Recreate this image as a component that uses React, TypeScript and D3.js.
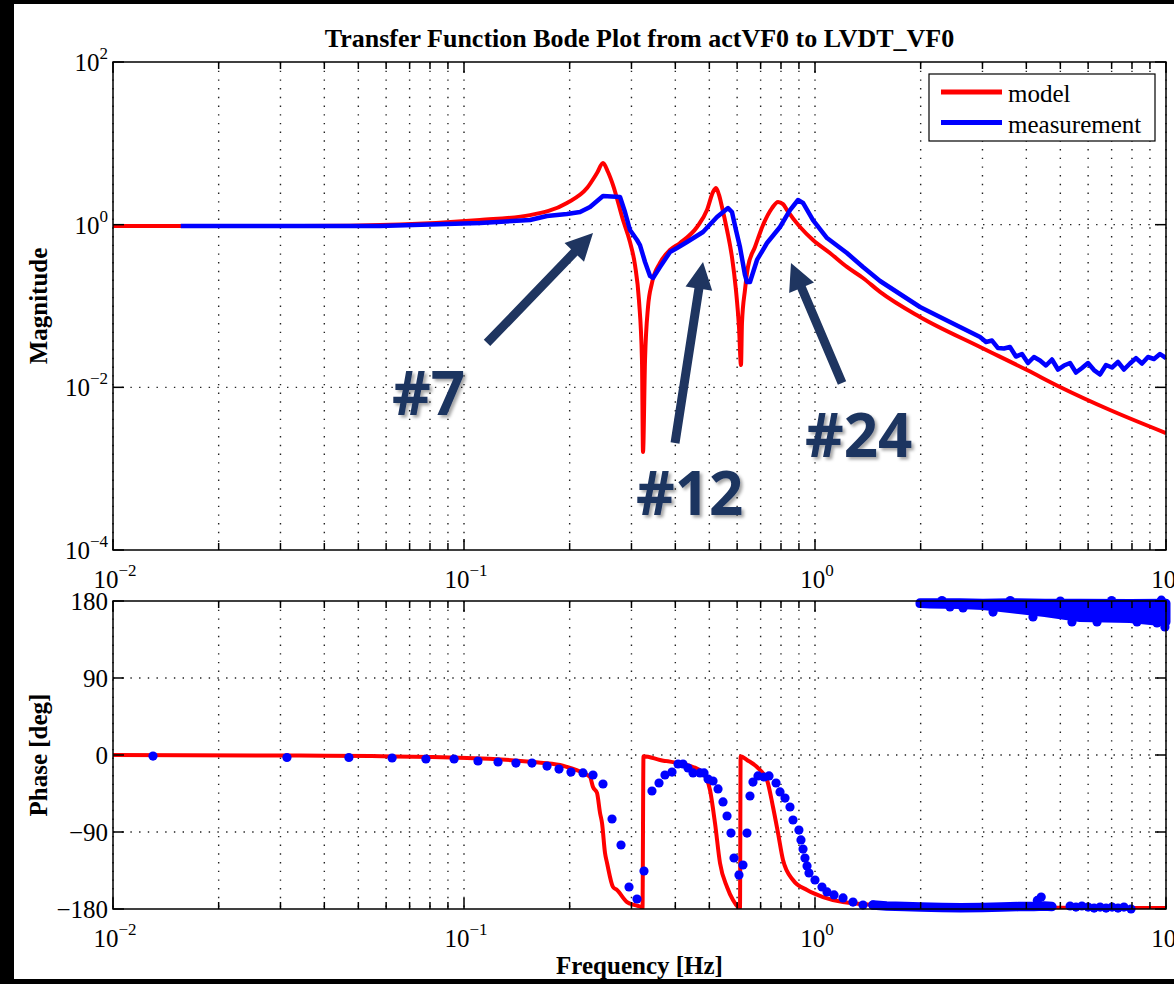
import React from "react";
import * as d3 from "d3";

// values

// magnitude, model (red)
const modelMagFreq = [0.01, 0.0341, 0.0657, 0.111, 0.1542, 0.1965, 0.2241, 0.2393, 0.2489, 0.2572, 0.2658, 0.2838, 0.2971, 0.307, 0.3151, 0.3214, 0.3236, 0.3279, 0.3344, 0.3432, 0.3617, 0.3863, 0.4125, 0.4612, 0.4924, 0.5122, 0.5224, 0.5328, 0.5433, 0.5615, 0.58, 0.5954, 0.6073, 0.6154, 0.6194, 0.6317, 0.6443, 0.6745, 0.7111, 0.7543, 0.7846, 0.8107, 0.8322, 0.9065, 0.9869, 1.103, 1.233, 1.37, 1.532, 1.991, 2.953, 4.018, 4.989, 6.926, 10.0];
const modelMag = [0.963, 0.963, 1.005, 1.14, 1.31, 1.85, 2.82, 4.32, 5.73, 4.44, 3.07, 1.14, 0.612, 0.319, 0.1185, 0.0217, 0.0016, 0.0217, 0.0972, 0.192, 0.338, 0.488, 0.595, 0.936, 1.51, 2.52, 2.82, 2.32, 1.65, 0.86, 0.4, 0.157, 0.0552, 0.0188, 0.0618, 0.157, 0.302, 0.531, 0.99, 1.6, 1.9, 1.79, 1.51, 0.936, 0.648, 0.448, 0.302, 0.221, 0.149, 0.0732, 0.0313, 0.0163, 0.0101, 0.00526, 0.00274];

// magnitude, measurement (blue)
const measMagFreq = [0.0156, 0.0576, 0.111, 0.1542, 0.1724, 0.1965, 0.2141, 0.2286, 0.2489, 0.2783, 0.2875, 0.2971, 0.3111, 0.3172, 0.3279, 0.3388, 0.3455, 0.3617, 0.3863, 0.4045, 0.4319, 0.4797, 0.5258, 0.5652, 0.58, 0.5954, 0.6113, 0.6317, 0.6401, 0.6528, 0.6835, 0.7299, 0.7949, 0.8487, 0.8946, 0.9244, 0.9869, 1.082, 1.233, 1.37, 1.532, 1.991, 2.424, 2.953, 3.071, 3.194, 3.322, 3.455, 3.593, 3.737, 3.887, 4.043, 4.205, 4.375, 4.55, 4.733, 4.923, 5.121, 5.328, 5.54, 5.763, 5.995, 6.235, 6.486, 6.746, 7.018, 7.298, 7.591, 7.896, 8.213, 8.543, 8.886, 9.243, 9.614, 10.0];
const measMag = [0.963, 0.963, 1.05, 1.14, 1.28, 1.35, 1.43, 1.65, 2.25, 2.19, 1.43, 0.86, 0.648, 0.562, 0.3475, 0.234, 0.221, 0.302, 0.461, 0.516, 0.612, 0.812, 1.24, 1.6, 1.43, 0.86, 0.531, 0.2405, 0.197, 0.197, 0.368, 0.595, 0.936, 1.51, 2.01, 1.85, 1.14, 0.685, 0.448, 0.302, 0.203, 0.0972, 0.0636, 0.0416, 0.0361, 0.0376, 0.0304, 0.03, 0.0313, 0.0239, 0.0257, 0.0199, 0.0236, 0.0214, 0.01855, 0.022, 0.01656, 0.01855, 0.0199, 0.01521, 0.0173, 0.0199, 0.0163, 0.01437, 0.0188, 0.01753, 0.0205, 0.01656, 0.01963, 0.0229, 0.01963, 0.0236, 0.0223, 0.0257, 0.0229];

// phase, model (red)
const modelPhaseFreq = [0.01, 0.0341, 0.102, 0.1573, 0.1877, 0.1965, 0.2183, 0.2286, 0.2331, 0.2393, 0.2441, 0.2473, 0.2522, 0.2556, 0.2658, 0.2728, 0.2914, 0.307, 0.3214, 0.3225, 0.3246, 0.3617, 0.4493, 0.4797, 0.5022, 0.5189, 0.5362, 0.5615, 0.5839, 0.6033, 0.6113, 0.614, 0.6401, 0.6973, 0.7299, 0.7592, 0.7846, 0.8107, 0.8656, 0.949, 1.054, 1.202, 1.502, 2.424, 10.0];
const modelPhase = [0, -0.6, -3.5, -8.2, -11.7, -14.0, -21.0, -25.7, -37.4, -44.4, -67.8, -79.5, -114.5, -126.2, -154.3, -157.8, -171.9, -175.4, -178.3, -179.5, -1.5, -5.8, -14.0, -21.0, -40.9, -79.5, -126.2, -154.3, -169.5, -177.7, -179.4, -1.5, -5.8, -17.5, -29.2, -60.8, -91.2, -122.7, -146.1, -157.8, -166.0, -171.9, -175.4, -177.7, -178.9];

// phase, measurement dots (blue)
const measPhaseFreq = [0.013, 0.0313, 0.047, 0.0624, 0.0779, 0.0937, 0.1096, 0.125, 0.1406, 0.1562, 0.1724, 0.1865, 0.2017, 0.2183, 0.2331, 0.2489, 0.2641, 0.2801, 0.2952, 0.3111, 0.3257, 0.3432, 0.3594, 0.3737, 0.3914, 0.4072, 0.4207, 0.4347, 0.4493, 0.4704, 0.4829, 0.4957, 0.5122, 0.5293, 0.5469, 0.5615, 0.5763, 0.5878, 0.6073, 0.6235, 0.6401, 0.6528, 0.6657, 0.688, 0.7157, 0.7396, 0.7745, 0.7949, 0.8214, 0.8487, 0.8656, 0.9, 0.9121, 0.9244, 0.9363, 0.949, 0.9614, 1.0, 1.047, 1.082, 1.133, 1.202, 1.283, 1.37, 1.463, 4.41, 4.3, 5.33, 5.54, 5.76, 6.0, 6.24, 6.49, 6.75, 7.02, 7.3, 7.59, 7.95];
const measPhase = [-1.2, -2.9, -2.9, -3.5, -4.7, -4.7, -7.0, -8.2, -9.4, -9.4, -12.9, -16.4, -19.9, -21.0, -23.4, -33.9, -74.8, -105.2, -154.3, -168.3, -135.6, -42.1, -32.7, -23.4, -19.9, -10.5, -10.5, -15.2, -21.0, -21.0, -21.0, -28.1, -30.4, -39.7, -54.9, -71.3, -91.2, -120.4, -140.3, -128.6, -91.2, -47.9, -31.6, -24.5, -25.7, -24.5, -32.7, -43.2, -50.3, -60.8, -76.0, -87.7, -99.3, -109.9, -120.4, -129.7, -137.9, -146.1, -154.3, -160.1, -163.6, -167.1, -171.9, -175.4, -175.4, -166.0, -170.0, -176.5, -177.7, -176.5, -177.7, -178.9, -177.7, -178.9, -177.7, -178.9, -177.7, -180];

// dense measured phase near -180 (1.5 to 4.7 Hz), drawn as a band of overlapping dots
const lowBandFreq = [1.463, 1.6, 1.8, 2.0, 2.3, 2.6, 3.0, 3.4, 3.8, 4.2, 4.5, 4.73];
const lowBandPhase = [-175.4, -176.5, -177.2, -177.7, -178.3, -178.6, -178.3, -177.7, -177.2, -177.0, -176.5, -177.2];

// wrapped measured phase near +180 (2 to 10 Hz)
const topBandFreq = [1.991, 2.126, 2.589, 3.01, 3.593, 4.521, 5.689, 7.896, 10.0];
const topBandUpper = [178, 178, 178, 177.5, 178, 177.5, 177.5, 177, 177.5];
const topBandLower = [177, 176.5, 176, 174.7, 171.2, 166.6, 160.7, 159.5, 155.5];
const topBumpFreq = [2.424, 2.641, 3.215, 4.179, 5.396, 6.36, 8.27, 9.427, 9.93, 2.3, 3.6, 5.0, 7.0, 9.7];
const topBumpPhase = [173.0, 171.8, 167.1, 161.3, 155.5, 155.5, 155.5, 154.3, 149.6, 180.5, 180.5, 180, 180.5, 181];

const magTicks = [1e-4, 1e-2, 1, 1e2];
const phaseTicks = [-180, -90, 0, 90, 180];
const phaseGrid = [-90, 0, 90];
const magGrid = [1e-2, 1];
const freqDecades = [0.01, 0.1, 1, 10];
const legendLabels = ["model", "measurement"];
const legendColors = ["#ff0000", "#0000ff"];

// annotation arrows, in (Hz, magnitude)
const noteLabels = ["#7", "#12", "#24"];
const noteTextFreq = [0.0624, 0.309, 0.9363];
const noteTextMag = [0.00457, 0.000269, 0.00139];
const arrowTailFreq = [0.1163, 0.3992, 1.194];
const arrowTailMag = [0.0351, 0.00207, 0.0113];
const arrowTipFreq = [0.2331, 0.4797, 0.8543];
const arrowTipMag = [0.79, 0.3475, 0.338];

const serif = "'Liberation Serif', 'Times New Roman', serif";
const navy = "#1f3560";

const PL = 113, PR = 1166;
const MT = 62, MB = 550;
const PT = 601, PB = 909;

const x = d3.scaleLog().domain([0.01, 10]).range([PL, PR]);
const yMag = d3.scaleLog().domain([1e-4, 1e2]).range([MB, MT]);
const yPh = d3.scaleLinear().domain([-180, 180]).range([PB, PT]);
const freqTicks = x.ticks();

const expText = (v: number) => {
  const e = Math.round(Math.log10(v));
  return e < 0 ? "\u2212" + Math.abs(e) : String(e);
};
const isDecade = (v: number) => freqDecades.some((d) => Math.abs(v / d - 1) < 1e-6);

function arrowPoints(x1: number, y1: number, x2: number, y2: number) {
  const dx = x2 - x1, dy = y2 - y1;
  const len = Math.hypot(dx, dy);
  const ux = dx / len, uy = dy / len;
  const nx = -uy, ny = ux;
  const headLen = 27, headHalf = 13.5, shaftHalf = 4.5;
  const bx = x2 - ux * headLen, by = y2 - uy * headLen;
  const pts = [
    [x1 + nx * shaftHalf, y1 + ny * shaftHalf],
    [bx + nx * shaftHalf, by + ny * shaftHalf],
    [bx + nx * headHalf, by + ny * headHalf],
    [x2, y2],
    [bx - nx * headHalf, by - ny * headHalf],
    [bx - nx * shaftHalf, by - ny * shaftHalf],
    [x1 - nx * shaftHalf, y1 - ny * shaftHalf],
  ];
  return pts.map((p) => p.join(",")).join(" ");
}

function Grid({ top, bottom, hLines }: { top: number; bottom: number; hLines: number[] }) {
  return (
    <g stroke="#222" strokeWidth={1.4} strokeDasharray="1.4 7.3">
      {freqTicks.map((t, i) => (
        <line key={"v" + i} x1={x(t)} x2={x(t)} y1={top} y2={bottom} />
      ))}
      {hLines.map((y, i) => (
        <line key={"h" + i} x1={PL} x2={PR} y1={y} y2={y} />
      ))}
    </g>
  );
}

function Frame({ top, bottom, yTicks }: { top: number; bottom: number; yTicks: number[] }) {
  return (
    <g stroke="#000" strokeWidth={1.5} fill="none">
      {freqTicks.map((t, i) => {
        const l = isDecade(t) ? 11 : 7;
        return (
          <g key={i}>
            <line x1={x(t)} x2={x(t)} y1={bottom} y2={bottom - l} />
            <line x1={x(t)} x2={x(t)} y1={top} y2={top + l} />
          </g>
        );
      })}
      {yTicks.map((y, i) => (
        <g key={"y" + i}>
          <line x1={PL} x2={PL + 11} y1={y} y2={y} />
          <line x1={PR} x2={PR - 11} y1={y} y2={y} />
        </g>
      ))}
      <rect x={PL} y={top} width={PR - PL} height={bottom - top} />
    </g>
  );
}

function PowLabel({ v, px, py, anchor }: { v: number; px: number; py: number; anchor: string }) {
  return (
    <text x={px} y={py} textAnchor={anchor} fontFamily={serif} fontSize={25} fill="#000">
      <tspan>10</tspan>
      <tspan dy={-12} fontSize={17}>{expText(v)}</tspan>
    </text>
  );
}

export default function App() {
  const magLine = (fs: number[], ms: number[], curve: d3.CurveFactory) =>
    d3
      .line<number>()
      .x((f) => x(f))
      .y((_, i) => yMag(ms[i]))
      .curve(curve)(fs) || "";
  const phLine = d3
    .line<number>()
    .x((f) => x(f))
    .y((_, i) => yPh(modelPhase[i]))
    .curve(d3.curveMonotoneX)(modelPhaseFreq) || "";
  const lowBand = d3
    .line<number>()
    .x((f) => x(f))
    .y((_, i) => yPh(lowBandPhase[i]))(lowBandFreq) || "";
  const topBand = d3
    .area<number>()
    .x((f) => x(f))
    .y0((_, i) => yPh(topBandLower[i]))
    .y1((_, i) => yPh(topBandUpper[i]))(topBandFreq) || "";

  return (
    <svg
      width={1174}
      height={984}
      style={{ position: "absolute", left: 0, top: 0, background: "#fff" }}
    >
      <defs>
        <clipPath id="magClip">
          <rect x={PL} y={MT} width={PR - PL} height={MB - MT} />
        </clipPath>
        <clipPath id="phClip">
          <rect x={PL} y={PT} width={PR - PL} height={PB - PT} />
        </clipPath>
        <filter id="shadow" x="-20%" y="-20%" width="140%" height="140%">
          <feDropShadow dx={2.5} dy={2.5} stdDeviation={1.5} floodColor="#000" floodOpacity={0.35} />
        </filter>
      </defs>
      <rect x={0} y={0} width={1174} height={984} fill="#fff" />

      <text x={(PL + PR) / 2} y={47} textAnchor="middle" fontFamily={serif} fontWeight="bold" fontSize={26}>
        Transfer Function Bode Plot from actVF0 to LVDT_VF0
      </text>

      {/* magnitude panel */}
      <Grid top={MT} bottom={MB} hLines={magGrid.map((v) => yMag(v))} />
      <g clipPath="url(#magClip)" fill="none" strokeLinejoin="round">
        <path d={magLine(modelMagFreq, modelMag, d3.curveMonotoneX)} stroke="#ff0000" strokeWidth={4} />
        <path d={magLine(measMagFreq, measMag, d3.curveLinear)} stroke="#0000ff" strokeWidth={4.5} />
      </g>
      <Frame top={MT} bottom={MB} yTicks={magTicks.map((v) => yMag(v))} />
      {magTicks.map((v) => (
        <PowLabel key={v} v={v} px={108} py={yMag(v) + 9} anchor="end" />
      ))}
      {freqDecades.map((v) => (
        <PowLabel key={"m" + v} v={v} px={x(v) + 2} py={MB + 38} anchor="middle" />
      ))}
      <text transform={`translate(47,${(MT + MB) / 2}) rotate(-90)`} textAnchor="middle" fontFamily={serif} fontWeight="bold" fontSize={25}>
        Magnitude
      </text>

      {/* legend */}
      <rect x={929} y={74} width={226} height={67} fill="#fff" stroke="#000" strokeWidth={1.2} />
      {legendLabels.map((l, i) => (
        <g key={l}>
          <line x1={941} x2={1002} y1={92 + i * 30.5} y2={92 + i * 30.5} stroke={legendColors[i]} strokeWidth={5} />
          <text x={1008} y={102 + i * 30.5} fontFamily={serif} fontSize={25}>
            {l}
          </text>
        </g>
      ))}

      {/* phase panel */}
      <Grid top={PT} bottom={PB} hLines={phaseGrid.map((v) => yPh(v))} />
      <g clipPath="url(#phClip)" fill="none" strokeLinejoin="round">
        <path d={phLine} stroke="#ff0000" strokeWidth={4} />
      </g>
      <g fill="#0000ff">
        <path d={lowBand} fill="none" stroke="#0000ff" strokeWidth={9.5} strokeLinecap="round" strokeLinejoin="round" />
        <path d={topBand} stroke="#0000ff" strokeWidth={9} strokeLinejoin="round" strokeLinecap="round" />
        {measPhaseFreq.map((f, i) => (
          <circle key={i} cx={x(f)} cy={yPh(measPhase[i])} r={4.6} />
        ))}
        {topBumpFreq.map((f, i) => (
          <circle key={"b" + i} cx={x(f)} cy={yPh(topBumpPhase[i])} r={4.6} />
        ))}
      </g>
      <Frame top={PT} bottom={PB} yTicks={phaseTicks.map((v) => yPh(v))} />
      {phaseTicks.map((v) => (
        <text key={v} x={108} y={yPh(v) + 9} textAnchor="end" fontFamily={serif} fontSize={25}>
          {v < 0 ? "\u2212" + Math.abs(v) : String(v)}
        </text>
      ))}
      {freqDecades.map((v) => (
        <PowLabel key={"p" + v} v={v} px={x(v) + 2} py={PB + 38} anchor="middle" />
      ))}
      <text transform={`translate(47,${(PT + PB) / 2}) rotate(-90)`} textAnchor="middle" fontFamily={serif} fontWeight="bold" fontSize={25}>
        Phase [deg]
      </text>
      <text x={(PL + PR) / 2} y={974} textAnchor="middle" fontFamily={serif} fontWeight="bold" fontSize={25}>
        Frequency [Hz]
      </text>

      {/* annotations */}
      {noteLabels.map((l, i) => (
        <g key={l}>
          <polygon
            points={arrowPoints(
              x(arrowTailFreq[i]),
              yMag(arrowTailMag[i]),
              x(arrowTipFreq[i]),
              yMag(arrowTipMag[i])
            )}
            fill={navy}
          />
          <text
            x={x(noteTextFreq[i])}
            y={yMag(noteTextMag[i])}
            fontFamily="'Open Sans', 'Liberation Sans', sans-serif"
            fontWeight="bold"
            fontSize={60}
            fill={navy}
            filter="url(#shadow)"
          >
            {l}
          </text>
        </g>
      ))}

      {/* outer black frame */}
      <rect x={0} y={0} width={14} height={984} fill="#000" />
      <rect x={0} y={0} width={1174} height={4} fill="#000" />
      <rect x={0} y={979} width={1174} height={5} fill="#000" />
    </svg>
  );
}
